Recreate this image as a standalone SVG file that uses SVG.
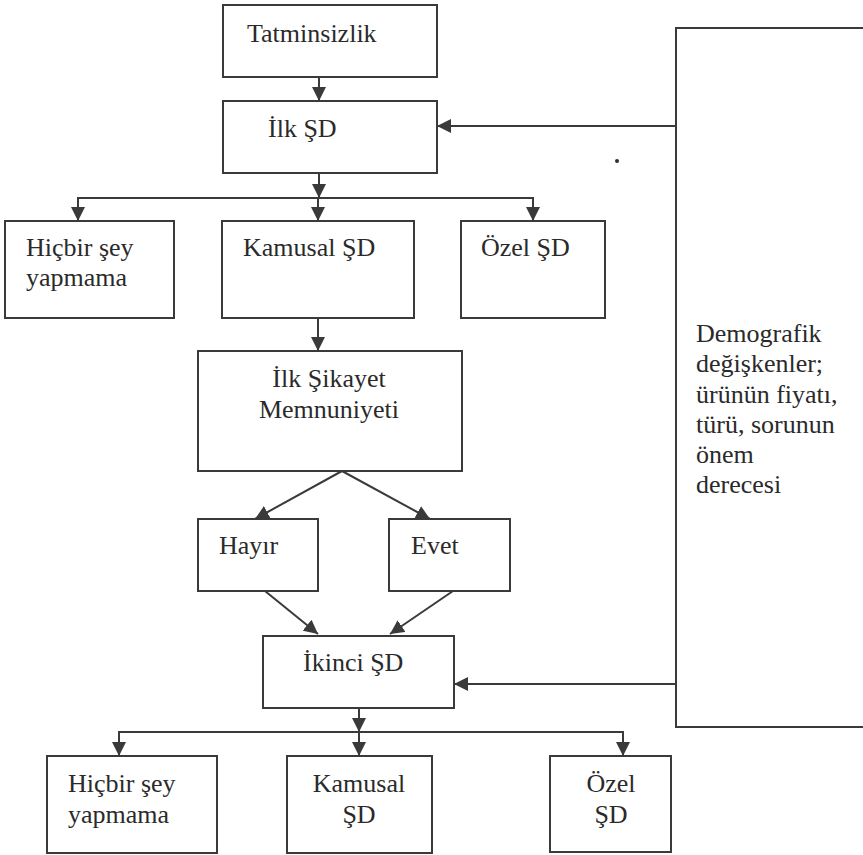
<svg xmlns="http://www.w3.org/2000/svg" width="863" height="855" viewBox="0 0 863 855">
<style>
.box{fill:#fff;stroke:#3a3a3a;stroke-width:2}
.ln{fill:none;stroke:#3a3a3a;stroke-width:2}
.arr{marker-end:url(#ah)}
.t{font-family:'Liberation Serif','DejaVu Serif',serif;font-size:26px;fill:#2a2a2a}
.c{text-anchor:middle}
</style>
<defs>
<marker id="ah" viewBox="0 0 14 14" refX="14" refY="7" markerWidth="14" markerHeight="14" markerUnits="userSpaceOnUse" orient="auto">
<path d="M0,0 L14,7 L0,14 z" fill="#3a3a3a"/>
</marker>
</defs>
<rect width="863" height="855" fill="#fff"/>
<g id="connectors">
<line class="ln arr" x1="319" y1="77" x2="319" y2="101"/>
<line class="ln arr" x1="319" y1="173" x2="319" y2="198"/>
<polyline class="ln" points="78,221 78,198 533,198 533,221"/>
<line class="ln arr" x1="78" y1="198" x2="78" y2="221"/>
<line class="ln arr" x1="318" y1="198" x2="318" y2="221"/>
<line class="ln arr" x1="533" y1="198" x2="533" y2="221"/>
<line class="ln arr" x1="318" y1="318" x2="318" y2="351"/>
<line class="ln arr" x1="342" y1="471" x2="255" y2="519"/>
<line class="ln arr" x1="342" y1="471" x2="430" y2="519"/>
<line class="ln arr" x1="265" y1="591" x2="318" y2="634"/>
<line class="ln arr" x1="453" y1="591" x2="390" y2="634"/>
<line class="ln arr" x1="676" y1="126" x2="437" y2="126"/>
<line class="ln arr" x1="676" y1="684" x2="454" y2="684"/>
<line class="ln arr" x1="359" y1="708" x2="359" y2="732"/>
<polyline class="ln" points="119,756 119,732 623,732 623,756"/>
<line class="ln arr" x1="119" y1="732" x2="119" y2="756"/>
<line class="ln arr" x1="359" y1="732" x2="359" y2="756"/>
<line class="ln arr" x1="623" y1="732" x2="623" y2="756"/>
</g>
<g class="t" font-family="Liberation Serif, DejaVu Serif, serif" font-size="26">
<g id="tatminsizlik"><rect class="box" x="223" y="5" width="214" height="72"/><text x="247" y="42">Tatminsizlik</text></g>
<g id="ilk-sd"><rect class="box" x="223" y="101" width="214" height="72"/><text x="268" y="137">İlk ŞD</text></g>
<g id="hicbir1"><rect class="box" x="5" y="221" width="169" height="97"/><text x="26" y="256">Hiçbir şey</text><text x="26" y="286">yapmama</text></g>
<g id="kamusal1"><rect class="box" x="222" y="221" width="192" height="97"/><text x="243" y="256">Kamusal ŞD</text></g>
<g id="ozel1"><rect class="box" x="461" y="221" width="144" height="97"/><text x="481" y="256">Özel ŞD</text></g>
<g id="ilk-sikayet"><rect class="box" x="198" y="351" width="264" height="120"/><text class="c" x="329" y="387">İlk Şikayet</text><text class="c" x="329" y="418">Memnuniyeti</text></g>
<g id="hayir"><rect class="box" x="198" y="519" width="120" height="72"/><text x="219" y="554">Hayır</text></g>
<g id="evet"><rect class="box" x="389" y="519" width="121" height="72"/><text x="411" y="554">Evet</text></g>
<g id="ikinci-sd"><rect class="box" x="263" y="636" width="191" height="72"/><text x="303" y="671">İkinci ŞD</text></g>
<g id="hicbir2"><rect class="box" x="47" y="756" width="170" height="97"/><text x="68" y="792">Hiçbir şey</text><text x="68" y="823">yapmama</text></g>
<g id="kamusal2"><rect class="box" x="287" y="756" width="145" height="97"/><text class="c" x="359" y="792">Kamusal</text><text class="c" x="359" y="823">ŞD</text></g>
<g id="ozel2"><rect class="box" x="550" y="756" width="121" height="96"/><text class="c" x="611" y="792">Özel</text><text class="c" x="611" y="823">ŞD</text></g>
<g id="demografik"><path class="ln" d="M870,28 H676 V727 H870"/>
<text x="696" y="342">Demografik</text>
<text x="696" y="372">değişkenler;</text>
<text x="696" y="403">ürünün fiyatı,</text>
<text x="696" y="433">türü, sorunun</text>
<text x="696" y="463">önem</text>
<text x="696" y="493">derecesi</text>
</g>
</g>
<circle cx="617" cy="161" r="2" fill="#2e2e2e"/>
</svg>
